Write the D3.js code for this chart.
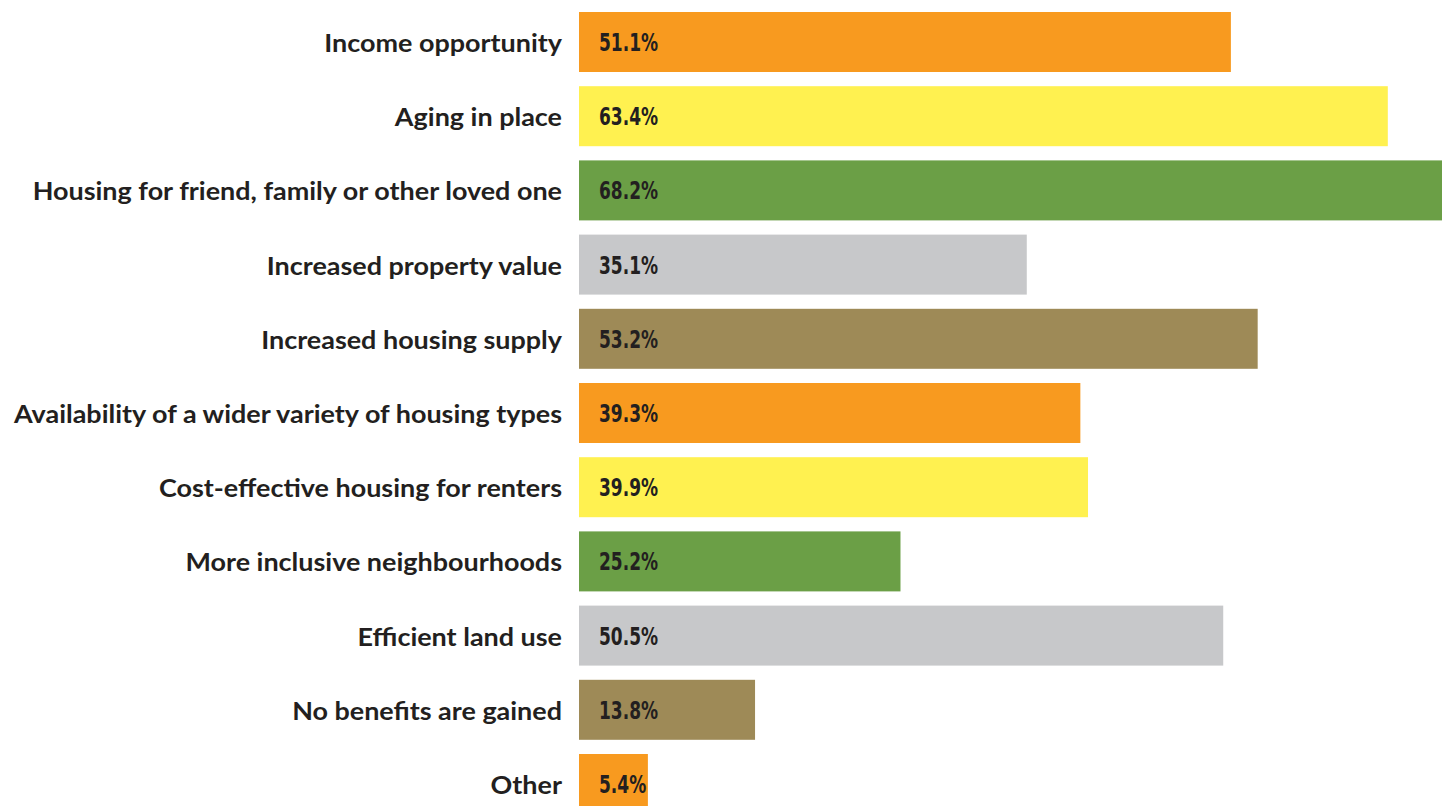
<!DOCTYPE html>
<html>
<head>
<meta charset="utf-8">
<script src="https://cdn.jsdelivr.net/npm/d3@7"></script>
<style>
  html, body { margin: 0; padding: 0; background: #ffffff; overflow: hidden; }
  svg { display: block; }
</style>
</head>
<body>
<svg id="chart" width="1442" height="806"></svg>
<script>
// Survey benefits, share of respondents (%)
const categories = [
  "Income opportunity",
  "Aging in place",
  "Housing for friend, family or other loved one",
  "Increased property value",
  "Increased housing supply",
  "Availability of a wider variety of housing types",
  "Cost-effective housing for renters",
  "More inclusive neighbourhoods",
  "Efficient land use",
  "No benefits are gained",
  "Other"
];
const values = [51.1, 63.4, 68.2, 35.1, 53.2, 39.3, 39.9, 25.2, 50.5, 13.8, 5.4];
const palette = ["#F89A1F", "#FFF150", "#6B9F46", "#C7C8CA", "#9E8A57"];

const svg = d3.select("#chart");
const textColor = "#231F20";

const x = d3.scaleLinear().domain([0, 70]).range([579, 1472]);
const y = d3.scaleBand()
  .domain(categories)
  .range([12, 814])
  .paddingInner(0.19137)
  .paddingOuter(0);

const rows = svg.append("g")
  .selectAll("g")
  .data(categories.map((c, i) => ({ category: c, value: values[i], i })))
  .join("g");

rows.append("rect")
  .attr("x", x(0))
  .attr("y", d => y(d.category))
  .attr("width", d => x(d.value) - x(0))
  .attr("height", y.bandwidth())
  .attr("fill", d => palette[d.i % palette.length]);

// Condense a group of labels by a shared factor so the widest one spans `target` px
function condense(sel, target) {
  const widest = d3.max(sel.nodes(), n => n.getComputedTextLength());
  const k = target / widest;
  sel.each(function () {
    const w = this.getComputedTextLength();
    d3.select(this).attr("textLength", w * k).attr("lengthAdjust", "spacingAndGlyphs");
  });
}

// Category labels, right-aligned against the bars
const labels = rows.append("text")
  .attr("x", 562)
  .attr("y", d => y(d.category) + y.bandwidth() / 2 + 10)
  .attr("text-anchor", "end")
  .attr("font-family", "Lato, 'Open Sans', sans-serif")
  .attr("font-weight", 700)
  .attr("font-size", 24.5)
  .attr("fill", textColor)
  .text(d => d.category);
condense(labels, 548);

// Value labels inside the bars
const vals = rows.append("text")
  .attr("x", x(0) + 20)
  .attr("y", d => y(d.category) + y.bandwidth() / 2 + 9)
  .attr("font-family", "'Liberation Sans Narrow', 'DejaVu Sans Condensed', sans-serif")
  .attr("font-weight", 700)
  .attr("font-size", 24)
  .attr("fill", textColor)
  .text(d => d.value.toFixed(1) + "%");
condense(vals, 59);
</script>
</body>
</html>
